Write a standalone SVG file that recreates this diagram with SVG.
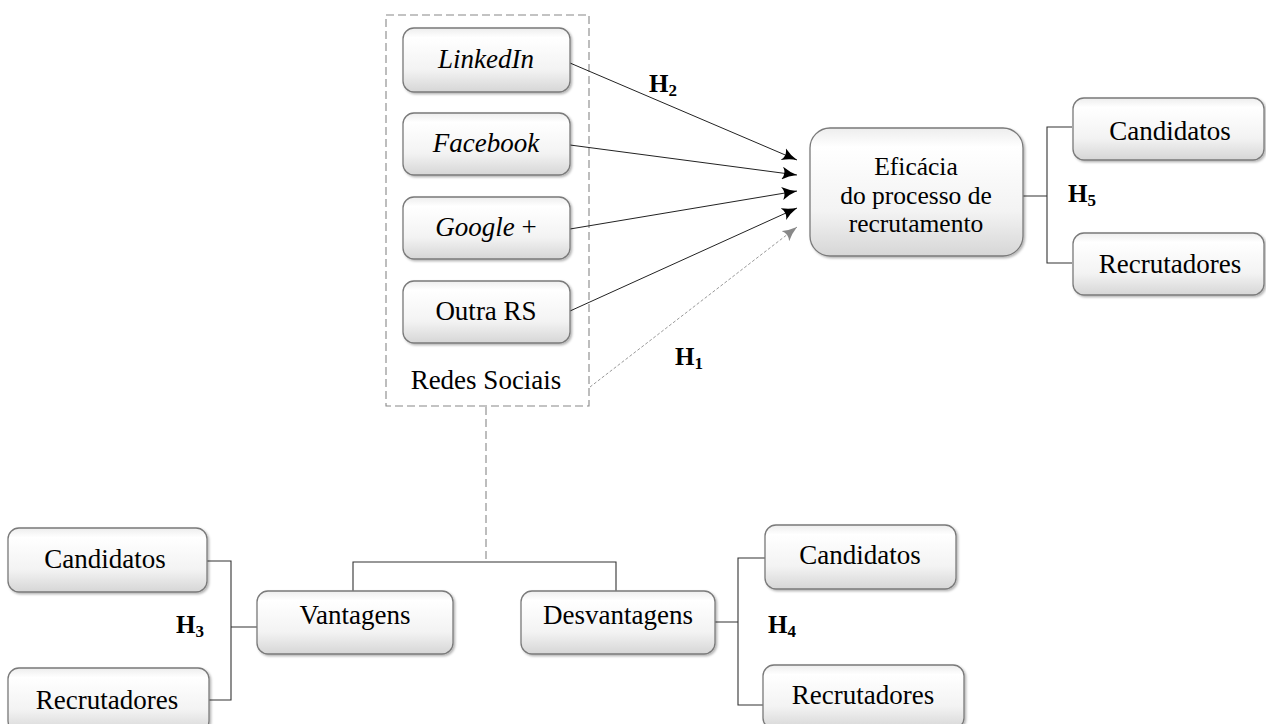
<svg xmlns="http://www.w3.org/2000/svg" width="1266" height="724" viewBox="0 0 1266 724">
<style>
.box{fill:url(#g);stroke:#7a7a7a;stroke-width:1.3;filter:url(#sh)}
.t{font-family:"Liberation Serif","Times New Roman",serif;font-size:27px;fill:#000;text-anchor:middle}
.e{font-size:25.5px}
.i{font-style:italic}
.h{font-family:"Liberation Serif","Times New Roman",serif;font-size:25px;font-weight:bold;fill:#000}
.s{font-size:17px}
.ln{fill:none;stroke:#333;stroke-width:1.1}
.ar{fill:none;stroke:#222;stroke-width:1}
.dg{fill:none;stroke:#888;stroke-width:1.1;stroke-dasharray:8,4}
</style>
<defs>
<linearGradient id="g" x1="0" y1="0" x2="0" y2="1">
<stop offset="0" stop-color="#ededed"/>
<stop offset="0.15" stop-color="#ffffff"/>
<stop offset="0.65" stop-color="#f3f3f3"/>
<stop offset="1" stop-color="#d6d6d6"/>
</linearGradient>
<filter id="sh" x="-10%" y="-10%" width="125%" height="130%">
<feDropShadow dx="1.5" dy="1.5" stdDeviation="1" flood-color="#000" flood-opacity="0.3"/>
</filter>
<marker id="ab" viewBox="0 0 15 13" refX="15" refY="6.5" markerWidth="15" markerHeight="13" markerUnits="userSpaceOnUse" orient="auto">
<path d="M0,0 Q7,4.5 15,6.5 Q7,8.5 0,13 Q4.5,6.5 0,0 z" fill="#000"/>
</marker>
<marker id="ag" viewBox="0 0 15 13" refX="15" refY="6.5" markerWidth="15" markerHeight="13" markerUnits="userSpaceOnUse" orient="auto">
<path d="M0,0 Q7,4.5 15,6.5 Q7,8.5 0,13 Q4.5,6.5 0,0 z" fill="#888"/>
</marker>
</defs>
<rect width="1266" height="724" fill="#fff"/>

<g id="connectors">
<rect x="386" y="15" width="203" height="391" class="dg"/>
<line x1="570" y1="63" x2="797" y2="160" class="ar" marker-end="url(#ab)"/>
<line x1="570" y1="145" x2="797" y2="175" class="ar" marker-end="url(#ab)"/>
<line x1="570" y1="229" x2="797" y2="191" class="ar" marker-end="url(#ab)"/>
<line x1="570" y1="311" x2="797" y2="208" class="ar" marker-end="url(#ab)"/>
<line x1="590" y1="387" x2="797" y2="227" style="fill:none;stroke:#999;stroke-width:1;stroke-dasharray:3,2" marker-end="url(#ag)"/>
<line x1="486" y1="407" x2="486" y2="562" class="dg"/>
<path d="M353,591 V562 H616 V591" class="ln"/>
<path d="M1023,196 H1047 M1072,127 H1047 V263 H1072" class="ln"/>
<path d="M207,561 H231 V700 H209 M231,627 H257" class="ln"/>
<path d="M715,622 H738 M765,558 H738 V705 H763" class="ln"/>
</g>

<g id="linkedin"><rect x="403" y="28" width="167" height="64" rx="11" class="box"/><text x="486" y="68" class="t i">LinkedIn</text></g>
<g id="facebook"><rect x="403" y="113" width="167" height="62" rx="11" class="box"/><text x="486" y="152" class="t i">Facebook</text></g>
<g id="google"><rect x="403" y="197" width="167" height="62" rx="11" class="box"/><text x="486" y="236" class="t"><tspan font-style="italic">Google</tspan> +</text></g>
<g id="outra"><rect x="403" y="281" width="167" height="62" rx="11" class="box"/><text x="486" y="320" class="t">Outra RS</text></g>
<g id="redes"><text x="486" y="389" class="t">Redes Sociais</text></g>

<g id="eficacia"><rect x="810" y="128" width="213" height="128" rx="20" class="box"/>
<text x="916" y="175" class="t e">Eficácia</text>
<text x="916" y="203.5" class="t e">do processo de</text>
<text x="916" y="232" class="t e">recrutamento</text></g>
<g id="cand-tr"><rect x="1073" y="98" width="191" height="62" rx="11" class="box"/><text x="1170" y="140" class="t">Candidatos</text></g>
<g id="recr-tr"><rect x="1073" y="233" width="191" height="62" rx="11" class="box"/><text x="1170" y="273" class="t">Recrutadores</text></g>

<g id="vantagens"><rect x="257" y="591" width="196" height="63" rx="11" class="box"/><text x="355" y="624" class="t">Vantagens</text></g>
<g id="desvantagens"><rect x="521" y="591" width="194" height="63" rx="11" class="box"/><text x="618" y="624" class="t">Desvantagens</text></g>
<g id="cand-l"><rect x="8" y="528" width="199" height="64" rx="11" class="box"/><text x="105" y="568" class="t">Candidatos</text></g>
<g id="recr-l"><rect x="8" y="668" width="201" height="64" rx="11" class="box"/><text x="107" y="709" class="t">Recrutadores</text></g>
<g id="cand-r"><rect x="765" y="525" width="191" height="64" rx="11" class="box"/><text x="860" y="564" class="t">Candidatos</text></g>
<g id="recr-r"><rect x="763" y="665" width="201" height="64" rx="11" class="box"/><text x="863" y="704" class="t">Recrutadores</text></g>

<g id="labels">
<text x="649" y="92" class="h">H<tspan class="s" dy="4">2</tspan></text>
<text x="675" y="365" class="h">H<tspan class="s" dy="4">1</tspan></text>
<text x="1068" y="202" class="h">H<tspan class="s" dy="4">5</tspan></text>
<text x="176" y="633" class="h">H<tspan class="s" dy="4">3</tspan></text>
<text x="768" y="633" class="h">H<tspan class="s" dy="4">4</tspan></text>
</g>
</svg>
